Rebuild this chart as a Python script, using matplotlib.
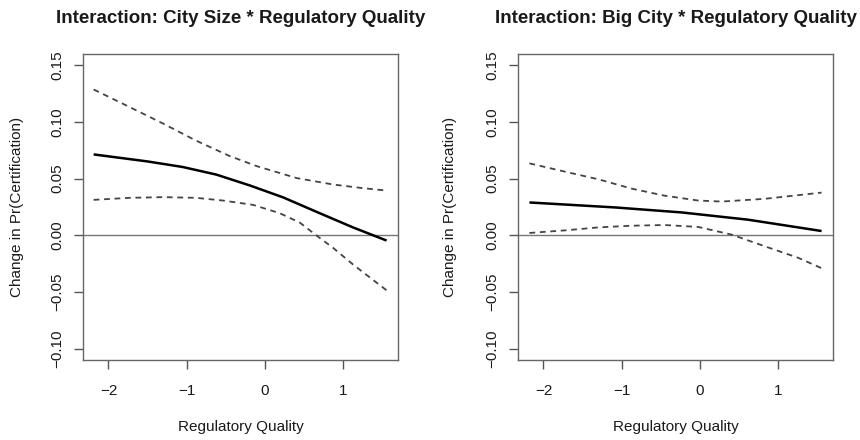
import matplotlib
matplotlib.use("Agg")
import matplotlib.pyplot as plt
from matplotlib.ticker import FixedLocator, FuncFormatter

plt.rcParams['font.family'] = ['Liberation Sans', 'DejaVu Sans']

# ---- data ----
titles = ["Interaction: City Size * Regulatory Quality",
          "Interaction: Big City * Regulatory Quality"]
xlabel = "Regulatory Quality"
ylabel = "Change in Pr(Certification)"
xticks = [-2, -1, 0, 1]
yticks = [-0.10, -0.05, 0.00, 0.05, 0.10, 0.15]

# Left panel: City Size
left_est_x = [-2.19, -1.5, -1.05, -0.62, -0.19, 0.235, 0.705, 1.13, 1.56]
left_est_y = [0.0714, 0.0652, 0.0603, 0.0536, 0.0440, 0.0335, 0.0195, 0.0070, -0.0046]
left_hi_x = [-2.19, -1.73, -1.30, -0.88, -0.45, -0.10, 0.41, 0.88, 1.26, 1.56]
left_hi_y = [0.1287, 0.1132, 0.0986, 0.0836, 0.0700, 0.0610, 0.0505, 0.0448, 0.0416, 0.0395]
left_lo_x = [-2.19, -1.73, -1.30, -0.88, -0.535, -0.15, 0.19, 0.45, 0.66, 0.876, 1.13, 1.35, 1.56]
left_lo_y = [0.0313, 0.0331, 0.0337, 0.0331, 0.0307, 0.0269, 0.0196, 0.0112, 0.0000, -0.0111, -0.0257, -0.0374, -0.0485]

# Right panel: Big City
right_est_x = [-2.18, -1.08, -0.23, 0.62, 1.56]
right_est_y = [0.0290, 0.0246, 0.0202, 0.0138, 0.0038]
right_hi_x = [-2.18, -1.72, -1.30, -0.87, -0.45, -0.02, 0.28, 0.83, 1.56]
right_hi_y = [0.0635, 0.0561, 0.0495, 0.0412, 0.0350, 0.0307, 0.0298, 0.0322, 0.0377]
right_lo_x = [-2.18, -1.72, -1.30, -0.87, -0.45, -0.02, 0.41, 0.83, 1.26, 1.56]
right_lo_y = [0.0021, 0.0044, 0.0070, 0.0085, 0.0091, 0.0074, 0.0006, -0.0096, -0.0198, -0.0290]

panels = [
    (titles[0], left_est_x, left_est_y, left_hi_x, left_hi_y, left_lo_x, left_lo_y),
    (titles[1], right_est_x, right_est_y, right_hi_x, right_hi_y, right_lo_x, right_lo_y),
]

W, H = 860, 440
fig = plt.figure(figsize=(W / 100, H / 100), dpi=100)
fig.patch.set_facecolor('white')

ax_lefts = [82.7, 517.7]
ax_w, ax_top, ax_bot = 315.6, 54.0, 360.0
ylabel_x = [17.0, 450.0]

txt_col = '#1a1a1a'
frame_col = '#666666'

for i, (title, ex, ey, hx, hy, lx, ly) in enumerate(panels):
    ax = fig.add_axes([ax_lefts[i] / W, (H - ax_bot) / H, ax_w / W, (ax_bot - ax_top) / H])
    ax.set_xlim(-2.33, 1.71)
    ax.set_ylim(-0.11, 0.16)
    ax.axhline(0, color='#777777', lw=1.0, zorder=1)
    ax.plot(hx, hy, color='#444444', lw=1.3, ls=(0, (3.2, 2.6)), zorder=2)
    ax.plot(lx, ly, color='#444444', lw=1.3, ls=(0, (3.2, 2.6)), zorder=2)
    ax.plot(ex, ey, color='black', lw=1.8, zorder=3, solid_capstyle='butt')

    for s in ax.spines.values():
        s.set_color(frame_col)
        s.set_linewidth(1.0)
    ax.xaxis.set_major_locator(FixedLocator(xticks))
    ax.yaxis.set_major_locator(FixedLocator(yticks))
    ax.xaxis.set_major_formatter(FuncFormatter(lambda v, p: f"{v:.0f}".replace('-', '\u2212')))
    ax.yaxis.set_major_formatter(FuncFormatter(lambda v, p: f"{v:.2f}".replace('-', '\u2212')))
    ax.tick_params(axis='both', direction='out', length=6.5, width=1.0, color='#555555',
                   labelsize=11, labelcolor=txt_col)
    ax.tick_params(axis='x', pad=10.5)
    for lab in ax.get_yticklabels():
        lab.set_rotation(90)
        lab.set_va('center')
        lab.set_ha('center')
    ax.yaxis.set_tick_params(pad=12)

    ax.text(0.5, 1 + (ax_top - 22.7) / (ax_bot - ax_top), title, transform=ax.transAxes,
            ha='center', va='baseline', fontsize=13.5, fontweight='bold', color=txt_col)
    ax.text(0.5, -(427 - ax_bot) / (ax_bot - ax_top), xlabel, transform=ax.transAxes,
            ha='center', va='center', fontsize=11, color=txt_col)
    ax.text((ylabel_x[i] - ax_lefts[i]) / ax_w, 0.5, ylabel, transform=ax.transAxes,
            ha='center', va='center', rotation=90, fontsize=11, color=txt_col)

fig.savefig('out.png', dpi=100, facecolor='white')
